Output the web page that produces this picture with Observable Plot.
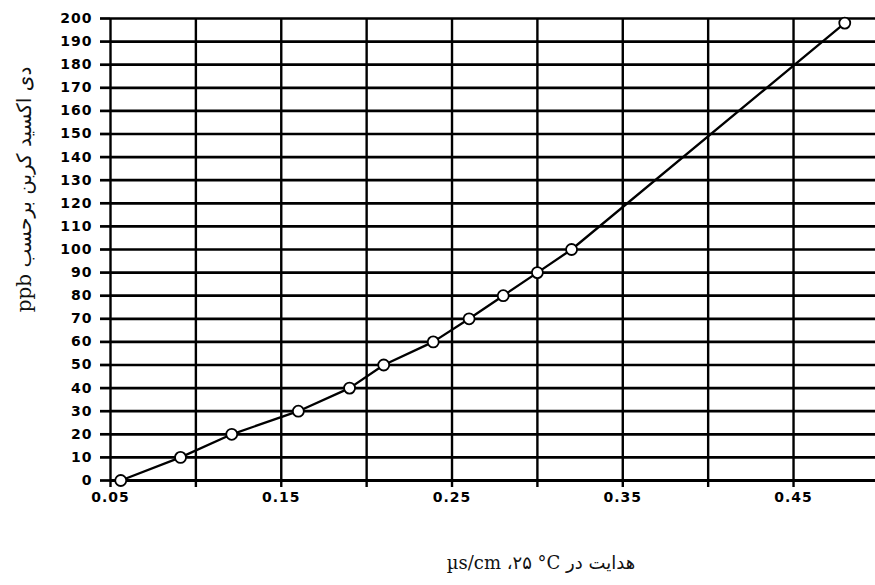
<!DOCTYPE html>
<html>
<head>
<meta charset="utf-8">
<script src="https://cdn.jsdelivr.net/npm/d3@7"></script>
<script src="https://cdn.jsdelivr.net/npm/@observablehq/plot@0.6"></script>
<style>
  html, body { margin: 0; padding: 0; background: #fff; }
  #chart svg { display: block; }
  #chart g[aria-label$="tick label"] text { letter-spacing: 1px; }
</style>
</head>
<body>
<div id="chart"></div>
<script>
// Data
const conductivity = [0.056, 0.091, 0.121, 0.160, 0.190, 0.210, 0.239, 0.260, 0.280, 0.300, 0.320, 0.480];
const co2ppb       = [0,     10,    20,    30,    40,    50,    60,    70,    80,    90,    100,   198];

const yTicks = [0,10,20,30,40,50,60,70,80,90,100,110,120,130,140,150,160,170,180,190,200];
const xTicks = [0.05,0.10,0.15,0.20,0.25,0.30,0.35,0.40,0.45];
const xTickLabels = ["0.05","0.15","0.25","0.35","0.45"];

const yTitle = "\u202Bدی اکسید کربن برحسب ppb\u202C";
const xTitle = "\u202Bهدایت در \u200E°C\u200E\u200F ۲۵،\u200F µs/cm\u202C";

const data = conductivity.map((c, i) => ({x: c, y: co2ppb[i]}));

const chart = Plot.plot({
  width: 875,
  height: 585,
  marginLeft: 110,
  marginRight: 0,
  marginTop: 18,
  marginBottom: 105,
  style: {fontFamily: "DejaVu Sans", background: "#fff", color: "#000"},
  x: {domain: [0.05, 0.498]},
  y: {domain: [0, 200]},
  marks: [
    Plot.gridX(xTicks, {stroke: "#000", strokeOpacity: 1, strokeWidth: 2.4}),
    Plot.gridY(yTicks, {stroke: "#000", strokeOpacity: 1, strokeWidth: 2.7}),
    Plot.ruleY([0], {stroke: "#000", strokeWidth: 3.2}),
    Plot.axisY(yTicks, {
      tickSize: 10, tickPadding: 8, strokeWidth: 2.7,
      fontSize: 14, fontWeight: "bold", label: null
    }),
    Plot.axisX(xTicks, {
      tickSize: 7, tickPadding: 5, strokeWidth: 2.4,
      fontSize: 14, fontWeight: "bold", label: null,
      tickFormat: d => { const s = d.toFixed(2); return xTickLabels.includes(s) ? s : ""; }
    }),
    Plot.line(data, {x: "x", y: "y", stroke: "#000", strokeWidth: 2.3}),
    Plot.dot(data, {x: "x", y: "y", r: 5.5, fill: "#fff", stroke: "#000", strokeWidth: 1.8}),
    Plot.text([yTitle], {
      text: d => d, frameAnchor: "left", textAnchor: "middle", rotate: -90,
      dx: -86, dy: -60, fontSize: 20, fill: "#111", fontFamily: "DejaVu Serif, DejaVu Sans"
    }),
    Plot.text([xTitle], {
      text: d => d, frameAnchor: "bottom", textAnchor: "middle",
      dx: 48, dy: 88, fontSize: 18, fill: "#111", fontFamily: "DejaVu Serif, DejaVu Sans"
    })
  ]
});
document.getElementById("chart").appendChild(chart);
</script>
</body>
</html>
